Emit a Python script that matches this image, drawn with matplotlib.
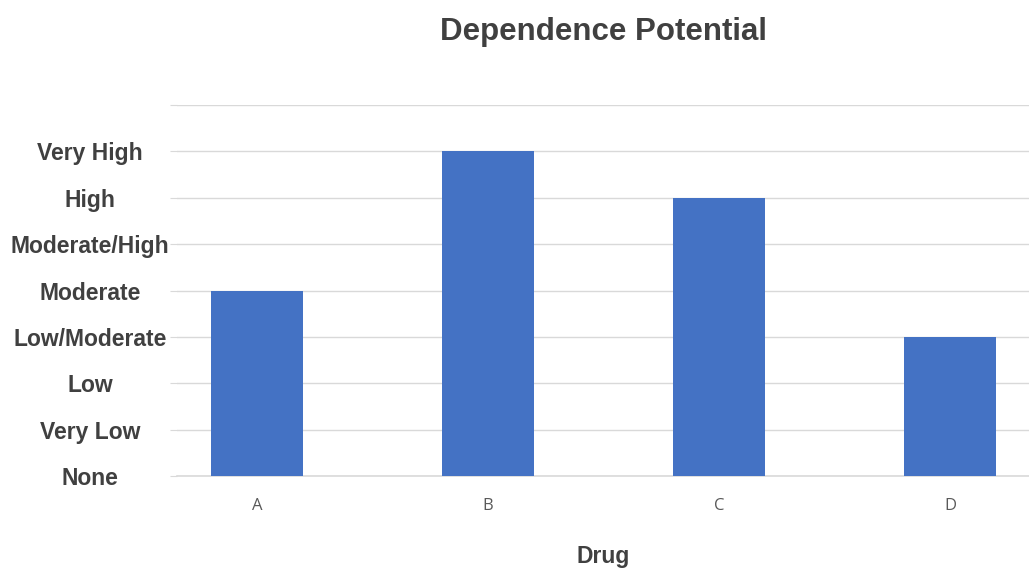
import numpy as np
import matplotlib.pyplot as plt

plt.rcParams.update({'font.family': 'Liberation Sans'})

drugs = ['A', 'B', 'C', 'D']
levels = [4, 7, 6, 3]
level_names = ['None', 'Very Low', 'Low', 'Low/Moderate', 'Moderate',
               'Moderate/High', 'High', 'Very High']

txtcol = '#404040'
gridcol = '#d9d9d9'

fig = plt.figure(figsize=(10.29, 5.70), dpi=100)
ax = fig.add_axes([177/1029, 1-476/570, 1-177/1029, (476-105)/570])

x = np.arange(len(drugs))
ax.bar(x, levels, width=0.4, color='#4472C4', zorder=3)

ax.set_xlim(-0.3463, 3.342)
ax.set_ylim(0, 8)
ax.set_yticks(np.arange(0, 9))
ax.set_yticklabels(level_names + [''], ha='center', fontsize=16.5,
                   fontweight='bold', color=txtcol)
ax.set_xticks(x)
ax.set_xticklabels(drugs, fontsize=12, color='#595959', family='Open Sans')

ax.grid(axis='y', color=gridcol, linewidth=1, zorder=0)
ax.axhline(0, color=gridcol, linewidth=1.2, clip_on=False, zorder=2)
for s in ax.spines.values():
  s.set_visible(False)
ax.tick_params(axis='y', length=5, color=gridcol, pad=57.6)
ax.tick_params(axis='x', length=0, pad=15.5)

ax.set_xlabel('Drug', fontsize=16.5, fontweight='bold', color=txtcol, va='center')
ax.xaxis.set_label_coords(0.5, (476-556)/371)
ax.set_title('Dependence Potential', fontsize=22.5, fontweight='bold',
             color=txtcol, y=(476-32)/371, va='center', pad=0)

plt.savefig('out.png', dpi=100)
